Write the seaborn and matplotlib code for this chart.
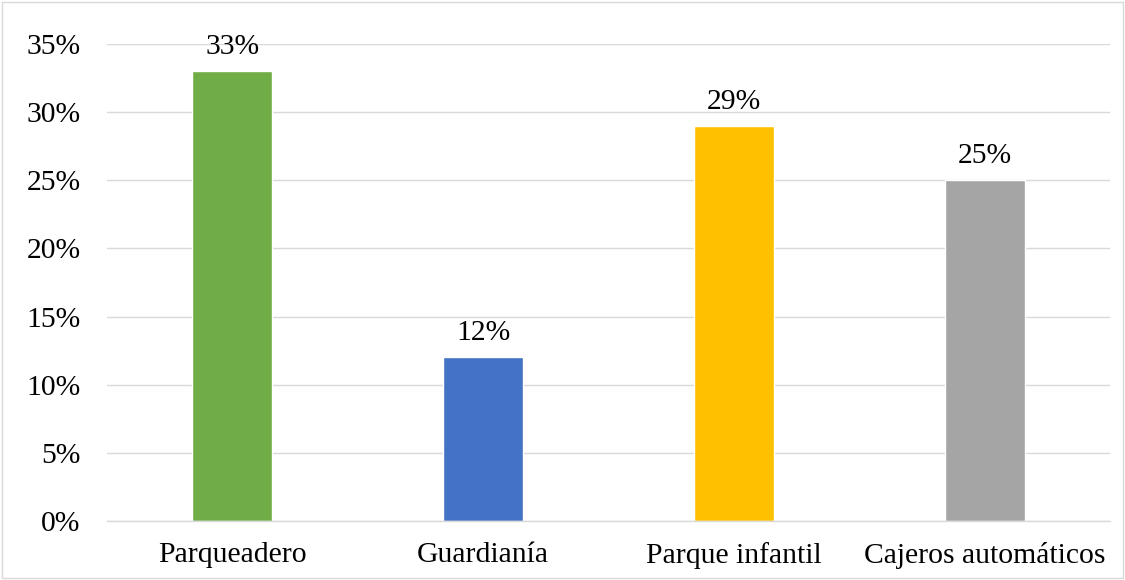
import pandas as pd
import seaborn as sns
import matplotlib.pyplot as plt
from matplotlib.ticker import PercentFormatter

# Datos del grafico
categorias = ['Parqueadero', 'Guardianía', 'Parque infantil', 'Cajeros automáticos']
porcentajes = [33, 12, 29, 25]
colores = ['#70AD47', '#4472C4', '#FFC000', '#A5A5A5']

df = pd.DataFrame({'categoria': categorias, 'valor': porcentajes})

sns.set_style('white')
plt.rcParams['font.family'] = ['Liberation Serif', 'DejaVu Serif']

fig = plt.figure(figsize=(11.25, 5.8), dpi=100)
ax = fig.add_axes([0.0951, 0.1017, 0.8916, 0.8224])

sns.barplot(data=df, x='categoria', y='valor', hue='categoria',
            palette=colores, width=0.32, legend=False, ax=ax, saturation=1)

ax.set_ylim(0, 35)
ax.set_yticks(range(0, 36, 5))
ax.yaxis.set_major_formatter(PercentFormatter(decimals=0))
ax.grid(axis='y', color='#D9D9D9', linewidth=1)
ax.set_axisbelow(True)

for s in ['top', 'right', 'left']:
    ax.spines[s].set_visible(False)
ax.spines['bottom'].set_color('#D9D9D9')
ax.spines['bottom'].set_linewidth(1)

ax.tick_params(axis='both', length=0, labelsize=21.3, colors='black')
ax.tick_params(axis='x', pad=15)
ax.tick_params(axis='y', pad=19)
ax.set_xlabel('')
ax.set_ylabel('')

# Etiquetas de valores
for i, v in enumerate(porcentajes):
    ax.annotate(f'{v}%', (i, v), xytext=(0, 8), textcoords='offset points',
                ha='center', va='bottom', fontsize=21.3, color='black')

# Marco de la figura
fig.patches.append(plt.Rectangle((0.002, 0.003), 0.996, 0.994, transform=fig.transFigure,
                                 fill=False, edgecolor='#D9D9D9', linewidth=1))

fig.savefig('out.png', dpi=100)
